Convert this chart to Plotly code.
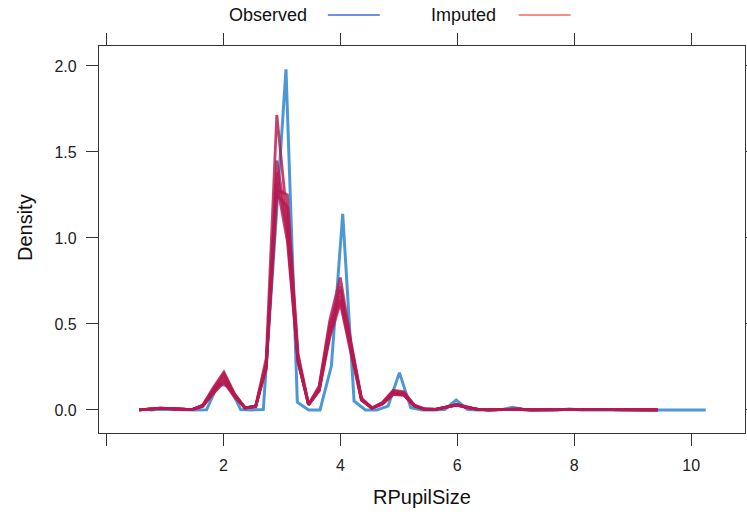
import plotly.graph_objects as go

# ---------------- data ----------------
# Observed density curve: evaluation grid and density values
obs_x = [0.742, 0.936, 1.130, 1.324, 1.518, 1.712, 1.906, 2.100, 2.294, 2.488,
         2.682, 2.876, 3.070, 3.264, 3.458, 3.652, 3.846, 4.040, 4.234, 4.428,
         4.622, 4.816, 5.010, 5.204, 5.398, 5.592, 5.786, 5.980, 6.174, 6.368,
         6.562, 6.756, 6.950, 7.144, 7.338, 7.532, 7.726, 7.920, 8.114, 8.308,
         8.502, 8.696, 8.890, 9.084, 9.278, 9.472, 9.666, 9.860, 10.054, 10.248]
obs_y = [0.000, 0.004, 0.002, 0.000, 0.000, 0.001, 0.150, 0.140, 0.002, 0.000,
         0.003, 0.980, 1.980, 0.045, 0.000, 0.000, 0.255, 1.140, 0.052, 0.000,
         0.000, 0.022, 0.217, 0.013, 0.000, 0.000, 0.003, 0.058, 0.002, 0.000,
         0.000, 0.001, 0.016, 0.000, 0.000, 0.000, 0.000, 0.006, 0.000, 0.000,
         0.000, 0.000, 0.001, 0.000, 0.000, 0.000, 0.000, 0.001, 0.000, 0.000]

# Imputed density curves (one per imputation) on a common grid
imp_x = [0.560, 0.741, 0.922, 1.103, 1.284, 1.465, 1.646, 1.827, 2.008, 2.189,
         2.370, 2.551, 2.732, 2.913, 3.094, 3.275, 3.456, 3.637, 3.818, 3.999,
         4.180, 4.361, 4.542, 4.723, 4.904, 5.085, 5.266, 5.447, 5.628, 5.809,
         5.990, 6.171, 6.352, 6.533, 6.714, 6.895, 7.076, 7.257, 7.438, 7.619,
         7.800, 7.981, 8.162, 8.343, 8.524, 8.705, 8.886, 9.067, 9.248, 9.429]
imp_1 = [0.000, 0.006, 0.010, 0.008, 0.003, 0.002, 0.022, 0.100, 0.170, 0.080,
         0.012, 0.022, 0.300, 1.715, 1.100, 0.300, 0.030, 0.110, 0.420, 0.620,
         0.330, 0.055, 0.010, 0.035, 0.090, 0.085, 0.022, 0.004, 0.003, 0.014,
         0.028, 0.014, 0.003, 0.001, 0.002, 0.005, 0.004, 0.001, 0.000, 0.001,
         0.002, 0.003, 0.002, 0.001, 0.000, 0.000, 0.001, 0.001, 0.000, 0.000]
imp_2 = [0.000, 0.005, 0.009, 0.007, 0.003, 0.002, 0.028, 0.130, 0.220, 0.095,
         0.014, 0.018, 0.250, 1.450, 1.060, 0.280, 0.032, 0.140, 0.520, 0.770,
         0.400, 0.070, 0.012, 0.045, 0.115, 0.105, 0.028, 0.005, 0.004, 0.016,
         0.033, 0.016, 0.003, 0.001, 0.002, 0.006, 0.004, 0.001, 0.000, 0.001,
         0.002, 0.003, 0.002, 0.001, 0.000, 0.000, 0.001, 0.001, 0.000, 0.000]
imp_3 = [0.000, 0.006, 0.011, 0.008, 0.003, 0.002, 0.025, 0.115, 0.200, 0.088,
         0.012, 0.020, 0.270, 1.380, 1.020, 0.290, 0.030, 0.125, 0.470, 0.700,
         0.370, 0.062, 0.010, 0.040, 0.100, 0.095, 0.025, 0.004, 0.003, 0.015,
         0.030, 0.015, 0.003, 0.001, 0.002, 0.005, 0.004, 0.001, 0.000, 0.001,
         0.002, 0.003, 0.002, 0.001, 0.000, 0.000, 0.001, 0.001, 0.000, 0.000]
imp_4 = [0.000, 0.005, 0.009, 0.008, 0.003, 0.002, 0.023, 0.105, 0.180, 0.082,
         0.011, 0.020, 0.260, 1.320, 0.980, 0.280, 0.030, 0.115, 0.440, 0.660,
         0.350, 0.058, 0.010, 0.038, 0.095, 0.090, 0.024, 0.004, 0.003, 0.014,
         0.029, 0.014, 0.003, 0.001, 0.002, 0.005, 0.004, 0.001, 0.000, 0.001,
         0.002, 0.003, 0.002, 0.001, 0.000, 0.000, 0.001, 0.001, 0.000, 0.000]
imp_5 = [0.000, 0.007, 0.010, 0.008, 0.003, 0.002, 0.020, 0.095, 0.160, 0.075,
         0.012, 0.020, 0.240, 1.280, 1.250, 0.330, 0.032, 0.130, 0.490, 0.720,
         0.380, 0.064, 0.011, 0.042, 0.110, 0.100, 0.026, 0.004, 0.003, 0.016,
         0.031, 0.015, 0.003, 0.001, 0.002, 0.005, 0.004, 0.001, 0.000, 0.001,
         0.002, 0.003, 0.002, 0.001, 0.000, 0.000, 0.001, 0.001, 0.000, 0.000]
imp_6 = [0.000, 0.006, 0.009, 0.007, 0.003, 0.002, 0.027, 0.120, 0.210, 0.090,
         0.013, 0.021, 0.255, 1.250, 1.180, 0.310, 0.031, 0.112, 0.450, 0.640,
         0.340, 0.058, 0.010, 0.036, 0.092, 0.088, 0.023, 0.004, 0.003, 0.014,
         0.028, 0.014, 0.003, 0.001, 0.002, 0.005, 0.004, 0.001, 0.000, 0.001,
         0.002, 0.003, 0.002, 0.001, 0.000, 0.000, 0.001, 0.001, 0.000, 0.000]
imputed = [imp_1, imp_2, imp_3, imp_4, imp_5, imp_6]

x_tickvals = [0, 2, 4, 6, 8, 10]
x_ticktext = ["", "2", "4", "6", "8", "10"]
y_tickvals = [0.0, 0.5, 1.0, 1.5, 2.0]
y_ticktext = ["0.0", "0.5", "1.0", "1.5", "2.0"]
legend_labels = ["Observed", "Imputed"]

# ---------------- styling ----------------
W, H = 747, 517
L, R, T, B = 99, 1.5, 46, 84
FONT = "Liberation Sans, Arial, Helvetica, sans-serif"
OBS_COL = "rgba(0,108,194,0.7)"
IMP_COL = "rgba(182,26,81,0.82)"
KEY_OBS = "#4169E1"
KEY_IMP = "#EF6A5E"
AXC = "#333333"

pw = W - L - R
ph = H - T - B


def px2paper_x(px):
    return (px - L) / pw


def px2paper_y(py):
    return (H - B - py) / ph


fig = go.Figure()
fig.add_trace(go.Scatter(x=obs_x, y=obs_y, mode="lines",
                         line=dict(color=OBS_COL, width=3),
                         showlegend=False, hoverinfo="skip"))
for ys in imputed:
    fig.add_trace(go.Scatter(x=imp_x, y=ys, mode="lines",
                             line=dict(color=IMP_COL, width=2.8),
                             showlegend=False, hoverinfo="skip"))

# key (lattice style: label then line)
key_items = [
    (legend_labels[0], 268, 328, 380, KEY_OBS),
    (legend_labels[1], 464, 519, 571, KEY_IMP),
]
annotations = []
shapes = []
for label, tx, lx0, lx1, col in key_items:
    annotations.append(dict(text=label, x=px2paper_x(tx), y=px2paper_y(15),
                            xref="paper", yref="paper", showarrow=False,
                            xanchor="center", yanchor="middle",
                            font=dict(family=FONT, size=18, color="#111111")))
    shapes.append(dict(type="line", xref="paper", yref="paper",
                       x0=px2paper_x(lx0), x1=px2paper_x(lx1),
                       y0=px2paper_y(15), y1=px2paper_y(15),
                       line=dict(color=col, width=1.6)))

# axis titles placed as annotations at fixed pixel positions
annotations.append(dict(text="RPupilSize", x=px2paper_x(422), y=px2paper_y(497),
                        xref="paper", yref="paper", showarrow=False,
                        xanchor="center", yanchor="middle",
                        font=dict(family=FONT, size=20, color="#111111")))
annotations.append(dict(text="Density", x=px2paper_x(25), y=px2paper_y(228),
                        xref="paper", yref="paper", showarrow=False,
                        xanchor="center", yanchor="middle", textangle=-90,
                        font=dict(family=FONT, size=20, color="#111111")))

fig.update_layout(
    width=W, height=H,
    margin=dict(l=L, r=R, t=T, b=B, pad=0, autoexpand=False),
    paper_bgcolor="white", plot_bgcolor="white",
    font=dict(family=FONT, color="#111111"),
    showlegend=False,
    annotations=annotations,
    shapes=shapes,
    xaxis=dict(range=[-0.128, 10.92], tickvals=x_tickvals, ticktext=x_ticktext,
               automargin=False,
               showgrid=False, zeroline=False, showline=True, mirror="allticks",
               linecolor=AXC, linewidth=1.3, ticks="outside", ticklen=12,
               tickcolor=AXC, tickwidth=1.3,
               tickfont=dict(family=FONT, size=16, color="#222222"),
               ticklabelstandoff=6),
    yaxis=dict(range=[-0.134, 2.116], tickvals=y_tickvals, ticktext=y_ticktext,
               automargin=False,
               showgrid=False, zeroline=False, showline=True, mirror="allticks",
               linecolor=AXC, linewidth=1.3, ticks="outside", ticklen=12,
               tickcolor=AXC, tickwidth=1.3,
               tickfont=dict(family=FONT, size=16, color="#222222"),
               ticklabelstandoff=6),
)

fig.write_html("out.html")
